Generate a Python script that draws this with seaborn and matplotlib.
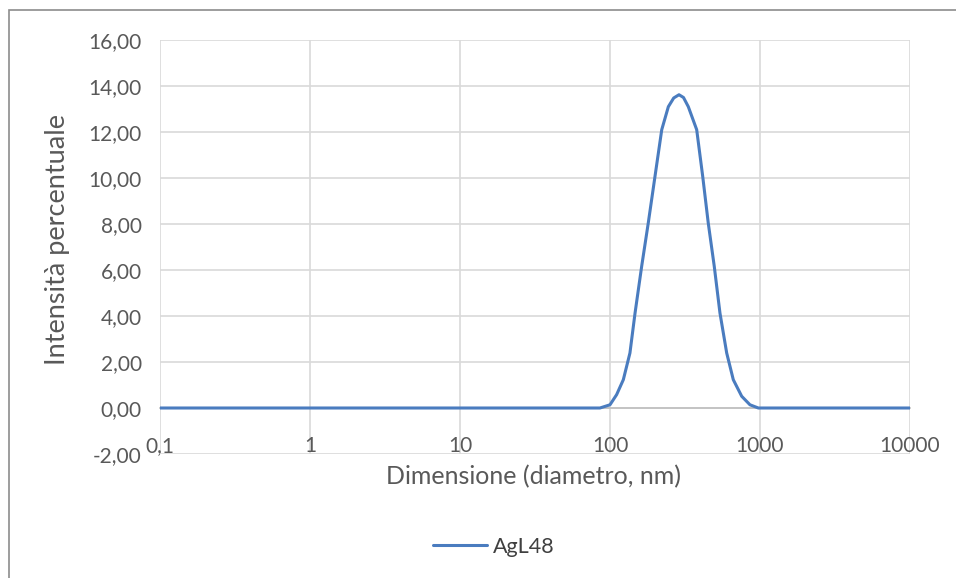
import matplotlib.pyplot as plt
import matplotlib.ticker as mticker
from matplotlib.patches import Rectangle
import seaborn as sns
import pandas as pd

# size (nm) and intensity (%)
dimensione = [0.1, 1.0, 10.0, 50.0, 85.7, 100.0, 110.7, 122.7, 135.8, 146.9,
              162.6, 179.9, 199.5, 221.3, 244.9, 266.0, 288.4, 309.0, 332.7,
              378.4, 415.0, 451.9, 495.5, 540.8, 599.8, 663.7, 755.1, 857.0,
              975.0, 2000, 10000]
intensita = [0.0, 0.0, 0.0, 0.0, 0.0, 0.14, 0.58, 1.23, 2.39, 4.13,
             6.16, 8.04, 10.07, 12.1, 13.1, 13.48, 13.62, 13.5, 13.1,
             12.1, 10.07, 8.04, 6.16, 4.13, 2.39, 1.23, 0.51, 0.14,
             0.0, 0.0, 0.0]
serie = "AgL48"
x_ticks = [0.1, 1, 10, 100, 1000, 10000]
x_labels = ["0,1", "1", "10", "100", "1000", "10000"]

df = pd.DataFrame({"x": dimensione, "y": intensita, "serie": serie})

sns.set_style("white")
plt.rcParams['font.family'] = ['Lato', 'DejaVu Sans']

fig = plt.figure(figsize=(9.56, 5.78), dpi=100)
ax = fig.add_axes([160/956, 1 - 454/578, 750/956, 414/578])

sns.lineplot(data=df, x="x", y="y", hue="serie", palette=["#4A7CBF"],
             linewidth=2.2, ax=ax, legend=False)

ax.set_xscale("log")
ax.set_xlim(0.1, 10000)
ax.set_ylim(-2, 16)
ax.set_yticks([-2, 0, 2, 4, 6, 8, 10, 12, 14, 16])
ax.yaxis.set_major_formatter(mticker.FuncFormatter(lambda v, p: f"{v:.2f}".replace(".", ",")))
ax.set_xticks(x_ticks)
ax.set_xticklabels(x_labels)
ax.xaxis.set_minor_locator(mticker.NullLocator())

ax.grid(True, color="#D9D9D9", linewidth=1.2)
ax.set_axisbelow(True)
for s in ["top", "right", "left"]:
    ax.spines[s].set_visible(False)
ax.spines["bottom"].set_position(("data", 0))
ax.spines["bottom"].set_color("#BFBFBF")
ax.spines["bottom"].set_linewidth(1.2)
ax.spines["bottom"].set_zorder(1.5)

ax.tick_params(axis="x", length=0, pad=20, labelsize=15, labelcolor="#595959")
ax.tick_params(axis="y", length=0, pad=13, labelsize=15, labelcolor="#595959")

ax.set_xlabel("")
ax.set_ylabel("")
fig.text(534/956, 1 - 477/578, "Dimensione (diametro, nm)", ha="center", va="center",
         fontsize=18, color="#595959")
fig.text(58/956, 1 - 240/578, "Intensità percentuale", ha="center", va="center",
         rotation=90, fontsize=19.5, color="#595959")

# legend at the bottom
fig.legend(handles=[plt.Line2D([], [], color="#4A7CBF", linewidth=2.2)], labels=[serie],
           loc="center", bbox_to_anchor=(494/956, 1 - 547/578), frameon=False,
           fontsize=15.5, handlelength=2.5, handletextpad=0.3, labelcolor="#404040")

fig.patches.append(Rectangle((9/956, -0.1), 1.2, 1 - 10/578 + 0.1, transform=fig.transFigure,
                             fill=False, edgecolor="#8C8C8C", linewidth=1.2))

fig.savefig("out.png", dpi=100)
